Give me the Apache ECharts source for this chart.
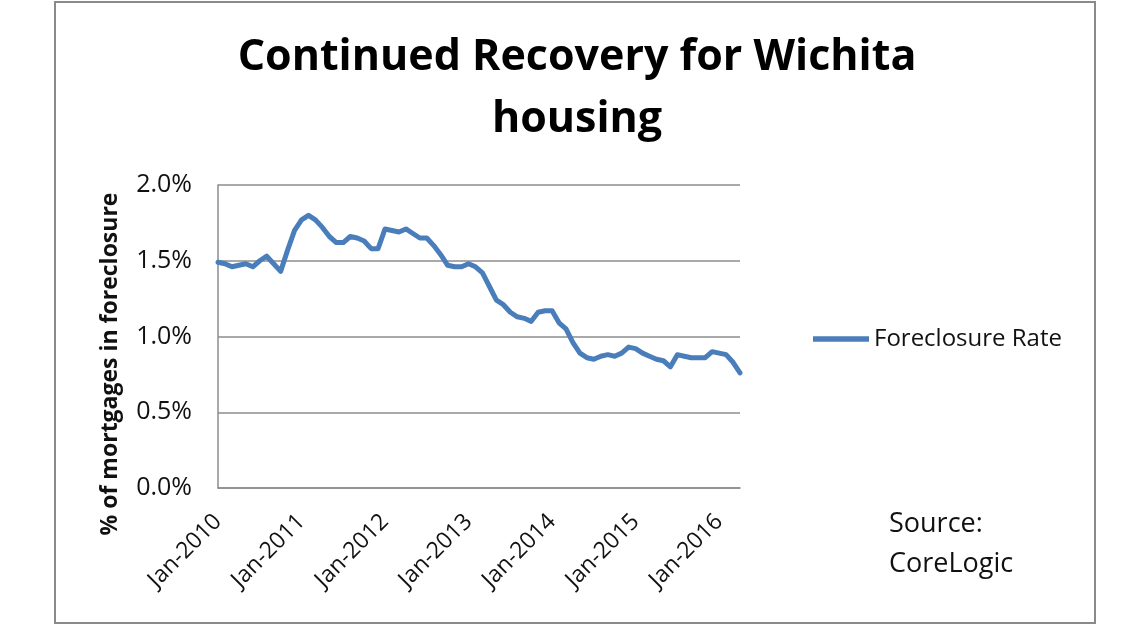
<!DOCTYPE html>
<html>
<head>
<meta charset="utf-8">
<script src="https://cdn.jsdelivr.net/npm/echarts@6/dist/echarts.min.js"></script>
<style>
  html, body { margin: 0; padding: 0; background: #fff; }
  #chart { width: 1140px; height: 640px; }
</style>
</head>
<body>
<div id="chart"></div>
<script>
const MONTHS = ['Jan', 'Feb', 'Mar', 'Apr', 'May', 'Jun', 'Jul', 'Aug', 'Sep', 'Oct', 'Nov', 'Dec']
const YEARS = [2010, 2011, 2012, 2013, 2014, 2015, 2016]
const LAST_MONTH_2016 = 4 // data runs through Apr-2016

// % of mortgages in foreclosure, monthly from Jan-2010
const foreclosureRate = [
    1.49, 1.48, 1.46, 1.47, 1.48, 1.46, 1.50, 1.53, 1.48, 1.43, 1.57, 1.70,
    1.77, 1.80, 1.77, 1.72, 1.66, 1.62, 1.62, 1.66, 1.65, 1.63, 1.58, 1.58,
    1.71, 1.70, 1.69, 1.71, 1.68, 1.65, 1.65, 1.60, 1.54, 1.47, 1.46, 1.46,
    1.48, 1.46, 1.42, 1.33, 1.24, 1.21, 1.16, 1.13, 1.12, 1.10, 1.16, 1.17,
    1.17, 1.09, 1.05, 0.96, 0.89, 0.86, 0.85, 0.87, 0.88, 0.87, 0.89, 0.93,
    0.92, 0.89, 0.87, 0.85, 0.84, 0.80, 0.88, 0.87, 0.86, 0.86, 0.86, 0.90,
    0.89, 0.88, 0.83, 0.76
]

const yTicks = [0, 0.5, 1.0, 1.5, 2.0]

const categories = []
YEARS.forEach(year => {
    const count = year === 2016 ? LAST_MONTH_2016 : 12
    for (let m = 0; m < count; m++) categories.push(MONTHS[m] + '-' + year)
})

const FONT = '"Open Sans", "Noto Sans", sans-serif'
const LINE_BLUE = '#4a7ebb'
const GRID_GRAY = '#8c8c8c'

const chart = echarts.init(document.getElementById('chart'), null, { renderer: 'canvas' })

chart.setOption({
    backgroundColor: '#ffffff',
    animation: false,
    title: {
        text: 'Continued Recovery for Wichita\nhousing',
        left: 572,
        top: 22,
        textAlign: 'center',
        textStyle: {
            fontFamily: FONT,
            fontSize: 43,
            fontWeight: 'bold',
            color: '#000',
            lineHeight: 62
        }
    },
    legend: {
        data: ['Foreclosure Rate'],
        left: 808,
        top: 322,
        icon: 'path://M0,0 L10,0 L10,1 L0,1 Z',
        itemWidth: 56,
        itemHeight: 6,
        itemGap: 6,
        textStyle: {
            fontFamily: FONT,
            fontSize: 24,
            color: '#111'
        }
    },
    grid: {
        left: 218,
        top: 185,
        right: 400,
        bottom: 152,
        containLabel: false
    },
    xAxis: {
        type: 'category',
        boundaryGap: false,
        data: categories,
        axisLine: { show: true, lineStyle: { color: GRID_GRAY, width: 1.5 } },
        axisTick: { show: false },
        splitLine: { show: false },
        axisLabel: {
            interval: 11,
            rotate: 45,
            margin: 30,
            fontFamily: FONT,
            fontSize: 23,
            color: '#111'
        }
    },
    yAxis: {
        type: 'value',
        min: yTicks[0],
        max: yTicks[yTicks.length - 1],
        interval: 0.5,
        axisLine: { show: true, lineStyle: { color: GRID_GRAY, width: 1.5 } },
        axisTick: { show: false },
        splitLine: { show: true, lineStyle: { color: GRID_GRAY, width: 1.5 } },
        axisLabel: {
            margin: 26,
            fontFamily: FONT,
            fontSize: 25,
            color: '#111',
            formatter: v => v.toFixed(1) + '%'
        }
    },
    graphic: [
        {
            type: 'rect',
            shape: { x: 55, y: 2, width: 1040, height: 621 },
            style: { fill: 'none', stroke: '#8a8a8a', lineWidth: 2 },
            silent: true
        },
        {
            type: 'text',
            x: 110,
            y: 364,
            rotation: Math.PI / 2,
            style: {
                text: '% of mortgages in foreclosure',
                fontFamily: FONT,
                fontSize: 23,
                fontWeight: 'bold',
                fill: '#111',
                align: 'center',
                verticalAlign: 'middle'
            }
        },
        {
            type: 'text',
            x: 889,
            y: 504,
            style: {
                text: 'Source:\nCoreLogic',
                fontFamily: FONT,
                fontSize: 27,
                lineHeight: 40,
                fill: '#111',
                align: 'left',
                verticalAlign: 'top'
            }
        }
    ],
    series: [
        {
            name: 'Foreclosure Rate',
            type: 'line',
            data: foreclosureRate,
            smooth: false,
            symbol: 'none',
            showSymbol: false,
            lineStyle: { width: 5, color: LINE_BLUE, cap: 'round', join: 'round' },
            itemStyle: { color: LINE_BLUE }
        }
    ]
})
</script>
</body>
</html>
